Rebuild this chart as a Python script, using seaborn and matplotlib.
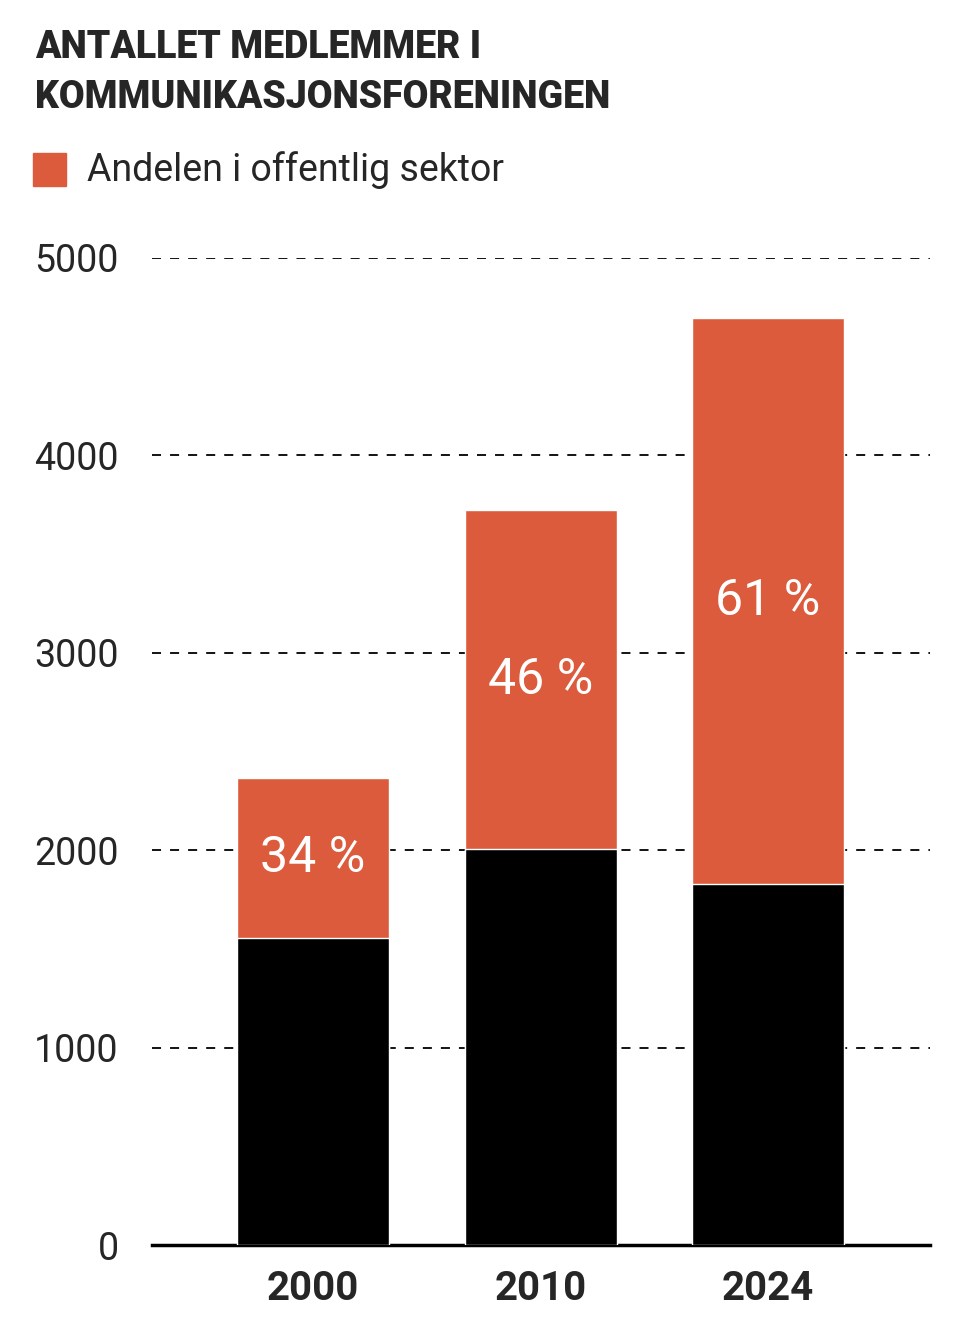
import matplotlib
matplotlib.use("Agg")
import matplotlib.pyplot as plt
import seaborn as sns
import pandas as pd

years = ["2000", "2010", "2024"]
total = [2366, 3723, 4696]
private = [1555, 2006, 1829]
share_labels = ["34 %", "46 %", "61 %"]

orange = "#DC5B3C"
sns.set_style("white")
plt.rcParams["font.family"] = ["Roboto", "DejaVu Sans"]

df = pd.DataFrame({"year": years, "total": total, "private": private})

fig = plt.figure(figsize=(9.6, 13.36), dpi=100)
ax = fig.add_axes([152 / 960, 1 - 1245 / 1336, (930 - 152) / 960, (1245 - 258) / 1336])

for v in [1000, 2000, 3000, 4000, 5000]:
    ax.axhline(v, color="black", linestyle=(0, (5, 5)), linewidth=1.3, zorder=0)

sns.barplot(data=df, x="year", y="total", color=orange, width=0.668, ax=ax,
            saturation=1, zorder=2)
sns.barplot(data=df, x="year", y="private", color="black", width=0.668, ax=ax,
            saturation=1, zorder=3)

for i, lab in enumerate(share_labels):
    ax.text(i, (total[i] + private[i]) / 2, lab, ha="center", va="center",
            color="white", fontsize=36, zorder=4, fontstretch="condensed")

ax.set_xlim(-0.708, 2.712)
ax.set_ylim(0, 5000)
ax.set_yticks([0, 1000, 2000, 3000, 4000, 5000])
ax.set_yticklabels(["0", "1000", "2000", "3000", "4000", "5000"], fontsize=27)
ax.tick_params(axis="y", length=0, pad=24)
ax.tick_params(axis="x", length=0, pad=18, labelsize=29)
for t in ax.get_xticklabels():
    t.set_fontweight("bold")
ax.set_xlabel("")
ax.set_ylabel("")
for s in ["top", "right", "left"]:
    ax.spines[s].set_visible(False)
ax.spines["bottom"].set_linewidth(2.5)
ax.spines["bottom"].set_color("black")

fig.text(35 / 960, 1 - 48 / 1336, "ANTALLET MEDLEMMER I", fontsize=27,
         fontweight="black", va="center")
fig.text(35 / 960, 1 - 98 / 1336, "KOMMUNIKASJONSFORENINGEN", fontsize=27,
         fontweight="black", va="center")
fig.patches.append(plt.Rectangle((33 / 960, 1 - 186 / 1336), 33 / 960, 33 / 1336,
                                 transform=fig.transFigure, color=orange))
fig.text(87 / 960, 1 - 170 / 1336, "Andelen i offentlig sektor", fontsize=27,
         va="center")

fig.savefig("out.png", dpi=100)
